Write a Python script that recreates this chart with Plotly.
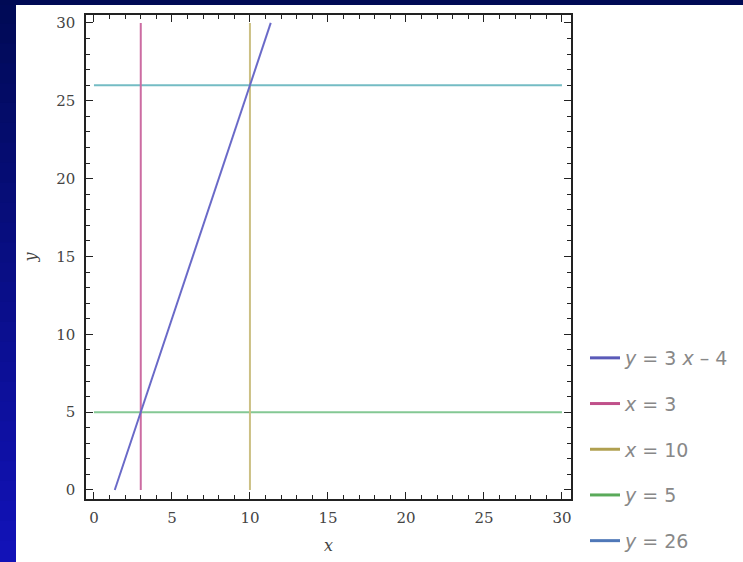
import plotly.graph_objects as go

# ---- data ----
line_x = [1.333, 11.333]          # y = 3x - 4 endpoints
line_y = [0, 30]
vert1_x = [3, 3]
vert2_x = [10, 10]
vert_y = [0, 30]
horiz_x = [0, 30]
horiz1_y = [5, 5]
horiz2_y = [26, 26]
legend_labels = ["<i>y</i> = 3 <i>x</i> – 4", "<i>x</i> = 3", "<i>x</i> = 10",
                 "<i>y</i> = 5", "<i>y</i> = 26"]
legend_colors = ["#5a5ab8", "#c0508a", "#b0a050", "#5aaa5a", "#4f78b8"]
ticks = [0, 5, 10, 15, 20, 25, 30]

W, H = 743, 562
L, R, T, B = 86, 172, 15, 63
PW, PH = W - L - R, H - T - B

def px(xp):
    return (xp - L) / PW

def py(yp):
    return (H - B - yp) / PH

fig = go.Figure()
fig.add_trace(go.Scatter(x=horiz_x, y=horiz1_y, mode="lines",
                         line=dict(color="#84c894", width=2), showlegend=False, hoverinfo="skip"))
fig.add_trace(go.Scatter(x=horiz_x, y=horiz2_y, mode="lines",
                         line=dict(color="#74bcc4", width=2), showlegend=False, hoverinfo="skip"))
fig.add_trace(go.Scatter(x=vert2_x, y=vert_y, mode="lines",
                         line=dict(color="#ccc084", width=2), showlegend=False, hoverinfo="skip"))
fig.add_trace(go.Scatter(x=vert1_x, y=vert_y, mode="lines",
                         line=dict(color="#cc6ca2", width=2), showlegend=False, hoverinfo="skip"))
fig.add_trace(go.Scatter(x=line_x, y=line_y, mode="lines",
                         line=dict(color="#6a6ac8", width=2), showlegend=False, hoverinfo="skip"))

for i, (lab, col) in enumerate(zip(legend_labels, legend_colors)):
    fig.add_trace(go.Scatter(x=[None], y=[None], mode="lines", name=lab,
                             legendgroup=f"g{i}",
                             line=dict(color=col, width=3)))

# background frame shapes (top bar + left gradient strip)
shapes = []
n = 28
top_c = (0, 10, 85)
bot_c = (18, 18, 185)
for k in range(n):
    y0p = 5 + (H - 5) * k / n - 1.5
    y1p = 5 + (H - 5) * (k + 1) / n + 1.5
    t = (k + 0.5) / n
    c = tuple(int(round(top_c[j] + (bot_c[j] - top_c[j]) * t)) for j in range(3))
    shapes.append(dict(type="rect", xref="paper", yref="paper",
                       x0=px(-2), x1=px(16), y0=py(min(y1p, H + 2)), y1=py(max(y0p, 0)),
                       fillcolor="rgb(%d,%d,%d)" % c, line=dict(width=0), layer="below"))
shapes.append(dict(type="rect", xref="paper", yref="paper",
                   x0=px(-2), x1=px(W + 2), y0=py(5), y1=py(-2),
                   fillcolor="#000a55", line=dict(width=0), layer="below"))

axis_common = dict(
    showline=True, linecolor="#222", linewidth=1.5, mirror="ticks",
    ticks="inside", ticklen=7, tickwidth=1.4, tickcolor="#222",
    tickvals=ticks, ticktext=[str(t) for t in ticks],
    showgrid=False, zeroline=False,
    tickfont=dict(family="DejaVu Serif", size=15, color="#444"),
    minor=dict(dtick=1, ticks="inside", ticklen=4, tickwidth=1.2, tickcolor="#222", showgrid=False),
)

fig.update_layout(
    width=W, height=H,
    margin=dict(l=L, r=R, t=T, b=B, autoexpand=False),
    paper_bgcolor="white", plot_bgcolor="white",
    shapes=shapes,
    xaxis=dict(range=[-0.51, 30.58], ticklabelstandoff=4,
               title=dict(text="<i>x</i>", font=dict(family="DejaVu Serif", size=16, color="#444"), standoff=14),
               **axis_common),
    yaxis=dict(range=[-0.58, 30.51], ticklabelstandoff=6,
               title=dict(text="<i>y</i>", font=dict(family="DejaVu Serif", size=16, color="#444"), standoff=16),
               **axis_common),
    legend=dict(x=px(585), y=py(339), xanchor="left", yanchor="top",
                font=dict(family="DejaVu Sans", size=19, color="#888"),
                tracegroupgap=18, bgcolor="rgba(0,0,0,0)", itemwidth=30),
    showlegend=True,
)

fig.write_html("out.html")
